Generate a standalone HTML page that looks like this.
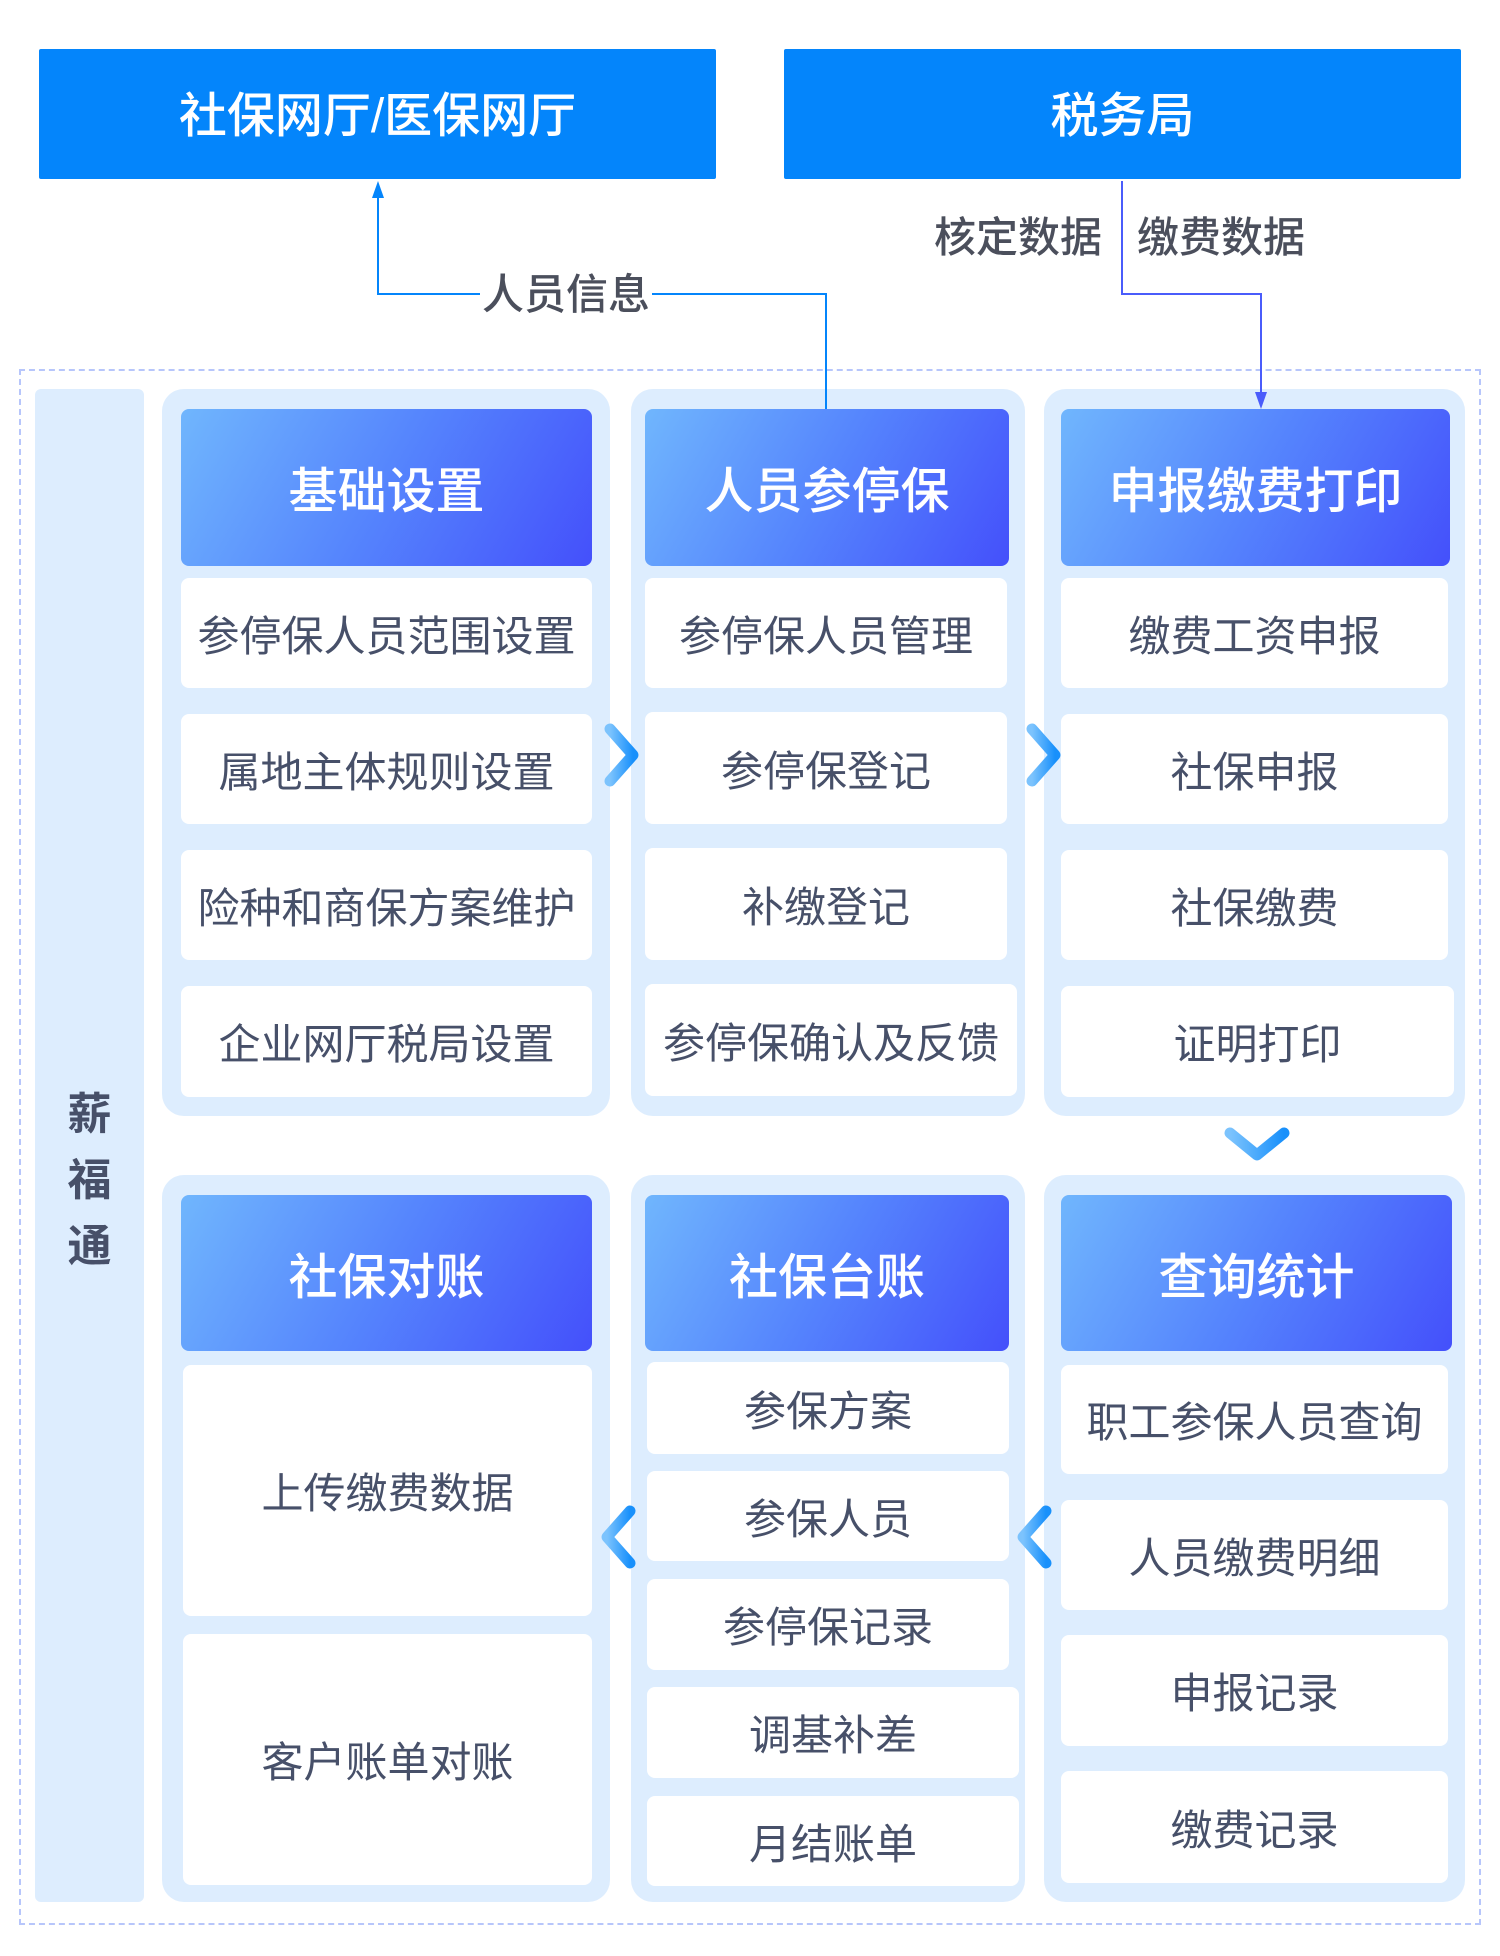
<!DOCTYPE html>
<html><head><meta charset="utf-8"><style>
*{margin:0;padding:0;box-sizing:border-box}
body{width:1500px;height:1956px;background:#fff;position:relative;overflow:hidden;font-family:"Liberation Sans","Noto Sans CJK SC",sans-serif}
.a{position:absolute;display:flex;align-items:center;justify-content:center;text-align:center;white-space:nowrap}
.top{background:#0485fb;color:#fff;font-size:48px;font-weight:500;border-radius:2px}
.panel{position:absolute;background:#ddedfe;border-radius:22px}
.hd{background:linear-gradient(120deg,#70b6fd 0%,#5584fd 50%,#4450fb 100%);color:#fff;font-size:49px;font-weight:500;border-radius:8px}
.it{background:#fff;color:#475069;font-size:42px;border-radius:8px}
.lbl{position:absolute;color:#4b4f5c;font-size:42px;font-weight:500;white-space:nowrap;line-height:1}
</style></head><body>
<div class="a top" style="left:39px;top:49px;width:677px;height:130px;padding-bottom:6px">社保网厅/医保网厅</div>
<div class="a top" style="left:784px;top:49px;width:677px;height:130px;padding-bottom:6px">税务局</div>

<div style="position:absolute;left:19px;top:369px;width:1462px;height:1556px;border:2px dashed #b7c6fb"></div>
<div class="a" style="left:35px;top:389px;width:109px;height:1513px;background:#ddedfe;border-radius:6px;flex-direction:column;color:#475069;font-size:44px;font-weight:600;line-height:66px;padding-top:70px">薪<br>福<br>通</div>

<div class="panel" style="left:162px;top:389px;width:448px;height:727px"></div>
<div class="panel" style="left:631px;top:389px;width:394px;height:727px"></div>
<div class="panel" style="left:1044px;top:389px;width:421px;height:727px"></div>
<div class="panel" style="left:162px;top:1175px;width:448px;height:727px"></div>
<div class="panel" style="left:631px;top:1175px;width:394px;height:727px"></div>
<div class="panel" style="left:1044px;top:1175px;width:421px;height:727px"></div>

<div class="a hd" style="left:181px;top:409px;width:411px;height:157px">基础设置</div>
<div class="a hd" style="left:645px;top:409px;width:364px;height:157px">人员参停保</div>
<div class="a hd" style="left:1061px;top:409px;width:389px;height:157px">申报缴费打印</div>

<div class="a it" style="left:181px;top:578px;width:411px;height:110px">参停保人员范围设置</div>
<div class="a it" style="left:181px;top:714px;width:411px;height:110px">属地主体规则设置</div>
<div class="a it" style="left:181px;top:850px;width:411px;height:110px">险种和商保方案维护</div>
<div class="a it" style="left:181px;top:986px;width:411px;height:111px">企业网厅税局设置</div>

<div class="a it" style="left:645px;top:578px;width:362px;height:110px">参停保人员管理</div>
<div class="a it" style="left:645px;top:712px;width:362px;height:112px">参停保登记</div>
<div class="a it" style="left:645px;top:848px;width:362px;height:112px">补缴登记</div>
<div class="a it" style="left:645px;top:984px;width:372px;height:112px">参停保确认及反馈</div>

<div class="a it" style="left:1061px;top:578px;width:387px;height:110px">缴费工资申报</div>
<div class="a it" style="left:1061px;top:714px;width:387px;height:110px">社保申报</div>
<div class="a it" style="left:1061px;top:850px;width:387px;height:110px">社保缴费</div>
<div class="a it" style="left:1061px;top:986px;width:393px;height:111px">证明打印</div>

<div class="a hd" style="left:181px;top:1195px;width:411px;height:156px">社保对账</div>
<div class="a hd" style="left:645px;top:1195px;width:364px;height:156px">社保台账</div>
<div class="a hd" style="left:1061px;top:1195px;width:391px;height:156px">查询统计</div>

<div class="a it" style="left:183px;top:1365px;width:409px;height:251px">上传缴费数据</div>
<div class="a it" style="left:183px;top:1634px;width:409px;height:251px">客户账单对账</div>

<div class="a it" style="left:647px;top:1362px;width:362px;height:92px">参保方案</div>
<div class="a it" style="left:647px;top:1471px;width:362px;height:90px">参保人员</div>
<div class="a it" style="left:647px;top:1579px;width:362px;height:91px">参停保记录</div>
<div class="a it" style="left:647px;top:1687px;width:372px;height:91px">调基补差</div>
<div class="a it" style="left:647px;top:1796px;width:372px;height:90px">月结账单</div>

<div class="a it" style="left:1061px;top:1365px;width:387px;height:109px">职工参保人员查询</div>
<div class="a it" style="left:1061px;top:1500px;width:387px;height:110px">人员缴费明细</div>
<div class="a it" style="left:1061px;top:1635px;width:387px;height:111px">申报记录</div>
<div class="a it" style="left:1061px;top:1771px;width:387px;height:112px">缴费记录</div>

<svg width="1500" height="1956" style="position:absolute;left:0;top:0" fill="none">
<defs><linearGradient id="g" x1="0" y1="0" x2="1" y2="0"><stop offset="0" stop-color="#7cc3fd"/><stop offset="1" stop-color="#1890fb"/></linearGradient></defs>
<polyline points="826,409 826,294 378,294 378,196" stroke="#0485fb" stroke-width="2"/>
<polygon points="378,181 372,198 384,198" fill="#0485fb"/>
<polyline points="1122,181 1122,294 1261,294 1261,394" stroke="#4a5cfb" stroke-width="2"/>
<polygon points="1261,409 1255,392 1267,392" fill="#4a5cfb"/>
<g stroke="url(#g)" stroke-width="11" stroke-linecap="round" stroke-linejoin="round">
<polyline points="610,729 633,755 610,781"/>
<polyline points="1032,729 1055,755 1032,781"/>
<polyline points="1230,1133 1257,1155 1284,1133"/>
<polyline points="630,1511 607,1537 630,1563"/>
<polyline points="1046,1511 1023,1537 1046,1563"/>
</g>
</svg>
<div class="lbl" style="left:480px;top:274px;background:#fff;padding:0 2px">人员信息</div>
<div class="lbl" style="left:934px;top:217px">核定数据</div>
<div class="lbl" style="left:1137px;top:217px">缴费数据</div>
</body></html>
